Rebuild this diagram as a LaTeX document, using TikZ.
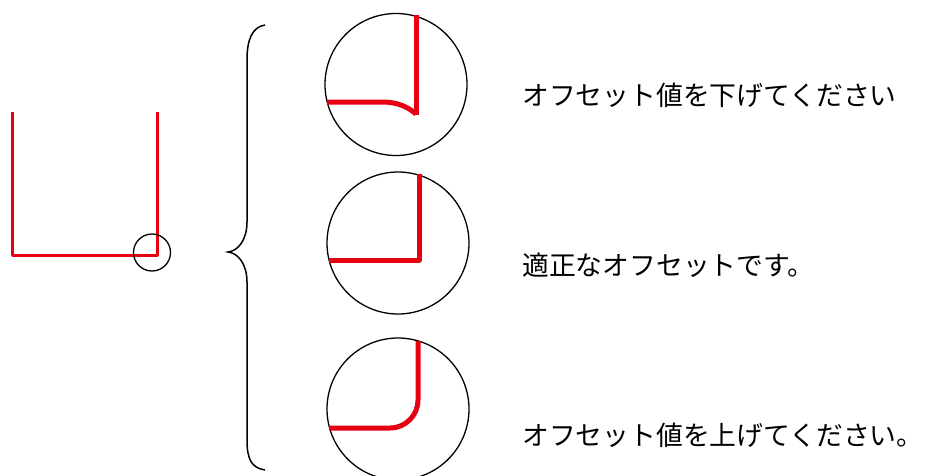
\documentclass[tikz,border=0pt]{standalone}
\usepackage{fontspec}
\newfontfamily\jpfont{Noto Sans CJK JP}
\definecolor{offred}{HTML}{E60012}
\begin{document}
\begin{tikzpicture}[x=1pt,y=-1pt,
  redline/.style={draw=offred,line width=3pt},
  redthick/.style={draw=offred,line width=5pt},
  lens/.style={circle,draw=black,line width=1.3pt,minimum size=142pt,inner sep=0pt},
  msg/.style={anchor=base west,inner sep=0pt,font=\jpfont\fontsize{26.8}{32}\selectfont}]
\useasboundingbox (0,0) rectangle (927,475);
% left U shape
\coordinate (ul) at (12,112);
\coordinate (bl) at (12,255);
\coordinate (br) at (157,255);
\coordinate (ur) at (157,112);
\draw[redline,line join=round] (ul) -- (bl) -- (br) -- (ur);
\node[circle,draw=black,line width=1.3pt,minimum size=37pt,inner sep=0pt] (zoomc) at (152,252.5) {};
% brace
\draw[line width=1.5pt] (265,25) .. controls (252,27) and (247,40) .. (247,60) -- (247,222)
  .. controls (247,240) and (238,251) .. (228,252)
  .. controls (238,253) and (247,264) .. (247,282) -- (247,440)
  .. controls (247,460) and (252,468) .. (265,470);
% top lens
\node[lens] (c1) at (396,84.5) {};
\draw[redthick] (327,102) -- (382,102) .. controls (398,102) and (408,107) .. (416,114);
\draw[redthick] (416,15) -- (416,115);
% middle lens
\node[lens] (c2) at (398,243) {};
\draw[redthick,line join=round] (419,174) -- (419,260) -- (329,260);
% bottom lens
\node[lens] (c3) at (398,409) {};
\draw[redthick,rounded corners=28pt] (418,341) -- (418,428) -- (329,428);
% messages
\node[msg] (t1) at (522,105.5) {オフセット値を下げてください};
\node[msg] (t2) at (522,275.5) {適正なオフセットです。};
\node[msg] (t3) at (522,445.5) {オフセット値を上げてください。};
\end{tikzpicture}
\end{document}
